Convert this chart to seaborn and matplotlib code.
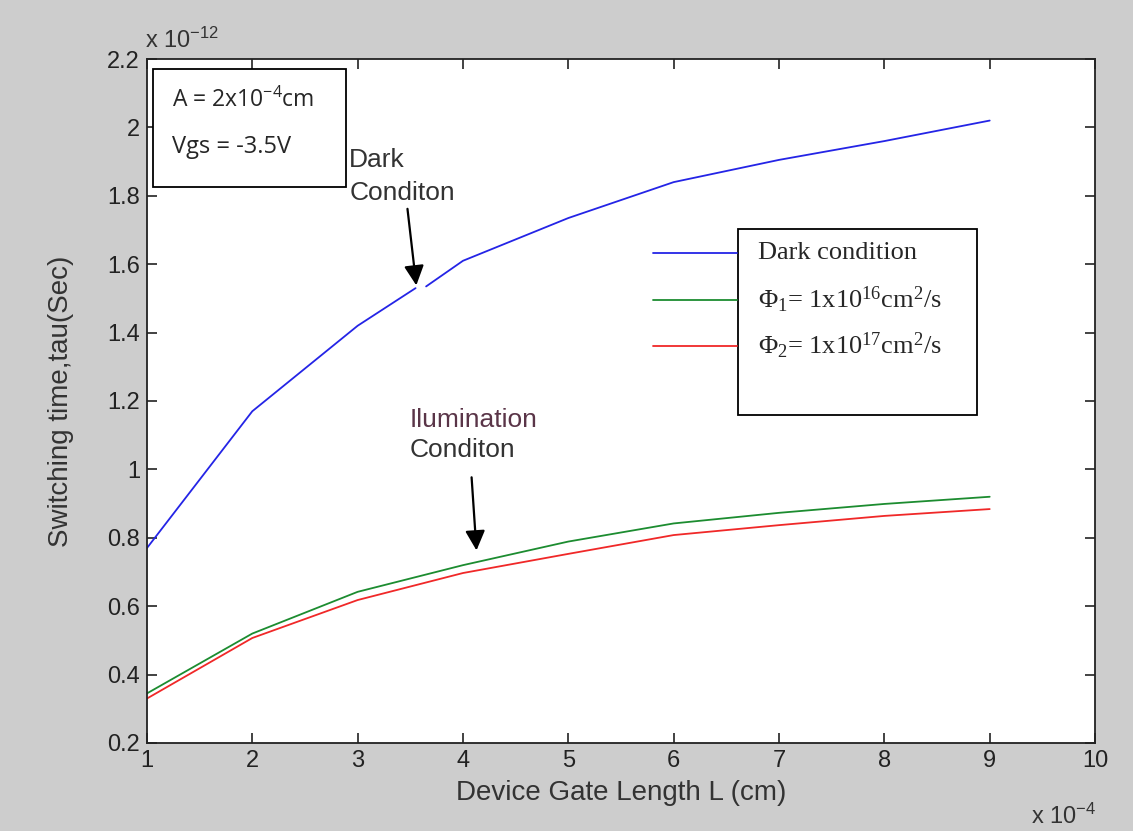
import numpy as np
import pandas as pd
import matplotlib
matplotlib.use("Agg")
import matplotlib.pyplot as plt
from matplotlib.patches import Rectangle
from matplotlib.lines import Line2D
import seaborn as sns

# values (x in 1e-4 cm, tau in 1e-12 s)
gate_len = [1, 2, 3, 4, 5, 6, 7, 8, 9]
dark_tau = [0.77, 1.17, 1.42, 1.61, 1.735, 1.84, 1.905, 1.96, 2.02]
phi1_tau = [0.345, 0.52, 0.642, 0.72, 0.789, 0.842, 0.873, 0.899, 0.92]
phi2_tau = [0.33, 0.507, 0.618, 0.697, 0.753, 0.808, 0.837, 0.864, 0.884]

# the dark curve is broken where the arrow touches it
dark_gap_x = [3.55, 3.65]
dark_gap_y = [1.53, 1.535]

legend_labels = ["Dark condition",
                 r"Φ$\mathregular{_1}$= 1x10$\mathregular{^{16}}$cm$\mathregular{^2}$/s",
                 r"Φ$\mathregular{_2}$= 1x10$\mathregular{^{17}}$cm$\mathregular{^2}$/s"]
colors = ["#2424e6", "#1c8c30", "#f02828"]

sns.set_style("white")
plt.rcParams["font.family"] = ["Liberation Sans", "DejaVu Sans"]

fig = plt.figure(figsize=(11.33, 8.31), dpi=100, facecolor="#cdcdcd")
ax = fig.add_axes([0.1297, 0.1059, 0.8368, 0.8231])
ax.set_facecolor("white")

# split dark curve in two pieces
dark_a = pd.DataFrame({"L": gate_len[:3] + dark_gap_x[:1], "tau": dark_tau[:3] + dark_gap_y[:1]})
dark_b = pd.DataFrame({"L": dark_gap_x[1:] + gate_len[3:], "tau": dark_gap_y[1:] + dark_tau[3:]})
sns.lineplot(data=dark_a, x="L", y="tau", color=colors[0], lw=1.3, ax=ax, estimator=None)
sns.lineplot(data=dark_b, x="L", y="tau", color=colors[0], lw=1.3, ax=ax, estimator=None)
sns.lineplot(x=gate_len, y=phi1_tau, color=colors[1], lw=1.3, ax=ax, estimator=None)
sns.lineplot(x=gate_len, y=phi2_tau, color=colors[2], lw=1.3, ax=ax, estimator=None)

ax.set_xlim(1, 10)
ax.set_ylim(0.2, 2.2)
ax.set_xticks(np.arange(1, 11))
ax.set_yticks(np.arange(0.2, 2.21, 0.2))
ax.set_yticklabels(["%g" % round(v, 1) for v in np.arange(0.2, 2.21, 0.2)])
ax.tick_params(direction="in", length=7, width=1.2, bottom=True, left=True,
               top=True, right=True, labelsize=17, colors="#222222", pad=5)
for s in ax.spines.values():
    s.set_color("#222222")
    s.set_linewidth(1.3)

ax.set_xlabel("Device Gate Length L (cm)", fontsize=20, color="#333333", labelpad=6)
ax.set_ylabel("Switching time,tau(Sec)", fontsize=20, color="#333333", labelpad=24)

# exponent labels like matlab
fig.text(0.128, 0.942, r"x 10$\mathregular{^{-12}}$", fontsize=17, color="#333333")
fig.text(0.91, 0.008, r"x 10$\mathregular{^{-4}}$", fontsize=17, color="#333333")

# parameter box top left
ax.add_patch(Rectangle((0.0065, 0.813), 0.203, 0.172, transform=ax.transAxes,
                       facecolor="white", edgecolor="black", lw=1.3, zorder=4))
ax.text(0.026, 0.94, r"A = 2x10$\mathregular{^{-4}}$cm", transform=ax.transAxes,
        fontsize=16.5, va="center", family=["Open Sans", "DejaVu Sans"], zorder=5)
ax.text(0.026, 0.872, "Vgs = -3.5V", transform=ax.transAxes,
        fontsize=17, va="center", family=["Open Sans", "DejaVu Sans"], zorder=5)

# legend: box with text, line samples sit outside the box on its left
ax.add_patch(Rectangle((0.623, 0.48), 0.253, 0.271, transform=ax.transAxes,
                       facecolor="white", edgecolor="black", lw=1.3, zorder=4))
for lab, c, yy in zip(legend_labels, colors, [0.716, 0.648, 0.581]):
    ax.add_line(Line2D([0.534, 0.622], [yy, yy], transform=ax.transAxes,
                       color=c, lw=1.3, zorder=5))
    ax.text(0.645, yy, lab, transform=ax.transAxes, fontsize=19, va="center",
            family=["Liberation Serif", "DejaVu Serif"], zorder=5)

# annotations
ax.text(2.92, 1.884, "Dark", fontsize=19, color="#333333", va="baseline")
ax.text(2.92, 1.788, "Conditon", fontsize=19, color="#333333", va="baseline")
ax.annotate("", xy=(3.56, 1.53), xytext=(3.47, 1.77),
            arrowprops=dict(arrowstyle="-|>", color="black", lw=1.6, mutation_scale=30))
ax.text(3.49, 1.125, "Ilumination", fontsize=19, color="#5a3548", va="baseline")
ax.text(3.49, 1.035, "Conditon", fontsize=19, color="#333333", va="baseline")
ax.annotate("", xy=(4.13, 0.755), xytext=(4.08, 0.985),
            arrowprops=dict(arrowstyle="-|>", color="black", lw=1.6, mutation_scale=30))

fig.savefig("out.png", dpi=100, facecolor=fig.get_facecolor())
